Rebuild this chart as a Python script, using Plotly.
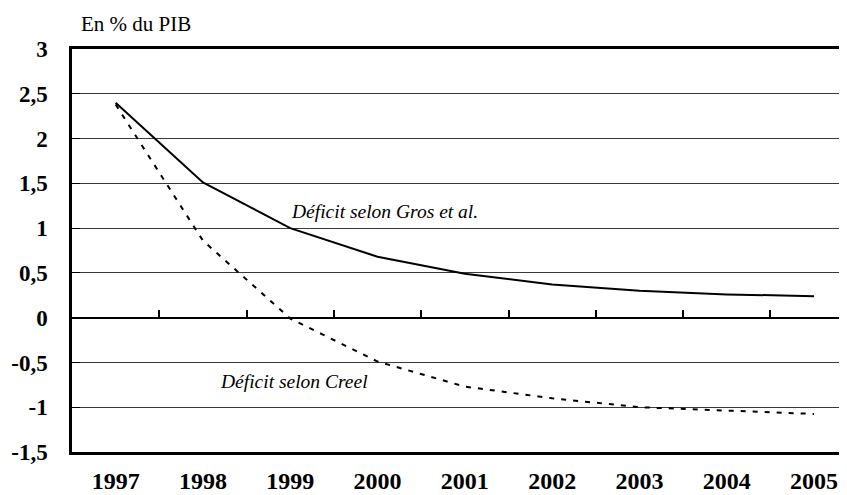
import plotly.graph_objects as go

years = [1997, 1998, 1999, 2000, 2001, 2002, 2003, 2004, 2005]
gros = [2.40, 1.51, 1.00, 0.68, 0.49, 0.37, 0.30, 0.26, 0.24]
creel = [2.38, 0.86, -0.01, -0.49, -0.77, -0.90, -1.00, -1.04, -1.075]

y_tickvals = [-1.5, -1, -0.5, 0, 0.5, 1, 1.5, 2, 2.5, 3]
y_ticktext = ["-1,5", "-1", "-0,5", "0", "0,5", "1", "1,5", "2", "2,5", "3"]
x_ticktext = [str(y) for y in years]
boundaries = [1997.5, 1998.5, 1999.5, 2000.5, 2001.5, 2002.5, 2003.5, 2004.5]

# page has an 8px body margin; figure occupies (8,8)-(847,495)
OFF = 8
W, H = 847 - OFF, 495 - OFF
L, T, B = 72 - OFF, 49 - OFF, 43
px_per_year = 87.3
x_left = 1996.5
x_right = x_left + (W - L) / px_per_year
y_min, y_max = -1.5, 3.0
zero_pos = (0 - y_min) / (y_max - y_min)
plot_h = H - T - B

fig = go.Figure()
fig.add_trace(go.Scatter(
    x=years, y=gros, mode="lines", line=dict(color="black", width=2),
    showlegend=False, hoverinfo="skip", xaxis="x", yaxis="y"))
fig.add_trace(go.Scatter(
    x=years, y=creel, mode="lines", line=dict(color="black", width=2, dash="5px,7px"),
    showlegend=False, hoverinfo="skip", xaxis="x2", yaxis="y"))

serif = "Liberation Serif, 'DejaVu Serif', serif"
fig.update_layout(
    width=W, height=H,
    margin=dict(l=L, r=0, t=T, b=B, pad=0, autoexpand=False),
    paper_bgcolor="white", plot_bgcolor="white",
    xaxis=dict(
        range=[x_left, x_right], tickmode="array", tickvals=years, ticktext=x_ticktext,
        showgrid=False, zeroline=False, showline=True, linecolor="black", linewidth=2.5,
        mirror=True, ticks="", ticklabelstandoff=5, automargin=False,
        tickfont=dict(family=serif, size=24, color="black", weight="bold"),
    ),
    xaxis2=dict(
        matches="x", overlaying="x", anchor="free", position=zero_pos, side="bottom",
        tickmode="array", tickvals=boundaries, showticklabels=False, automargin=False,
        ticks="inside", ticklen=7, tickwidth=1.5, tickcolor="black",
        showgrid=False, zeroline=False, showline=True, linecolor="black", linewidth=2,
    ),
    yaxis=dict(
        range=[y_min, y_max], tickmode="array", tickvals=y_tickvals, ticktext=y_ticktext,
        showgrid=True, gridcolor="#3a3a3a", gridwidth=1, zeroline=False,
        showline=True, linecolor="black", linewidth=2.5, automargin=False,
        ticks="inside", ticklen=8, tickwidth=1, tickcolor="black",
        ticklabelstandoff=17,
        tickfont=dict(family=serif, size=23, color="black", weight="bold"),
    ),
    annotations=[
        dict(text="En % du PIB", xref="paper", yref="paper", x=(79 - 72) / (W - L),
             y=1 + (49 - 24) / plot_h,
             xanchor="left", yanchor="middle", showarrow=False,
             font=dict(family=serif, size=21, color="black")),
        dict(text="<i>Déficit selon Gros et al.</i>", xref="x", yref="y", x=2000.08, y=1.19,
             xanchor="center", yanchor="middle", showarrow=False,
             font=dict(family=serif, size=19.5, color="black")),
        dict(text="<i>Déficit selon Creel</i>", xref="x", yref="y", x=1999.04, y=-0.71,
             xanchor="center", yanchor="middle", showarrow=False,
             font=dict(family=serif, size=19.5, color="black")),
    ],
)

fig.write_html("out.html")
